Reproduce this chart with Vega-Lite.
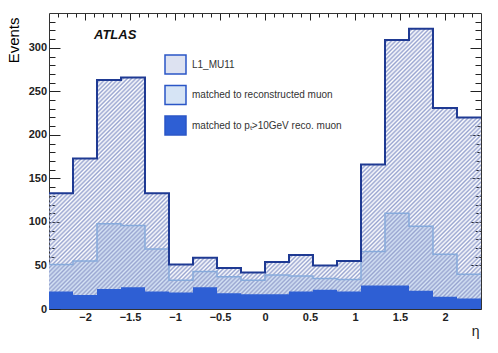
{
  "$schema": "https://vega.github.io/schema/vega-lite/v6.json",
  "width": 432,
  "height": 296,
  "autosize": {"type": "none"},
  "padding": {"left": 49, "top": 13, "right": 17, "bottom": 44},
  "background": "white",
  "config": {
    "view": {"stroke": null},
    "font": "Liberation Sans",
    "axis": {"grid": false, "zindex": 1, "domainColor": "#333", "tickColor": "#222", "tickWidth": 1, "labelOverlap": false, "labelFlush": false}
  },
  "data": {
    "values": [
      {"lo": -2.4, "hi": -2.1333, "l1": 133, "reco": 51, "pt": 20},
      {"lo": -2.1333, "hi": -1.8667, "l1": 173, "reco": 55, "pt": 16},
      {"lo": -1.8667, "hi": -1.6, "l1": 263, "reco": 98, "pt": 23},
      {"lo": -1.6, "hi": -1.3333, "l1": 266, "reco": 96, "pt": 25},
      {"lo": -1.3333, "hi": -1.0667, "l1": 133, "reco": 69, "pt": 20},
      {"lo": -1.0667, "hi": -0.8, "l1": 51, "reco": 33, "pt": 19},
      {"lo": -0.8, "hi": -0.5333, "l1": 59, "reco": 43, "pt": 25},
      {"lo": -0.5333, "hi": -0.2667, "l1": 47, "reco": 37, "pt": 18},
      {"lo": -0.2667, "hi": 0, "l1": 42, "reco": 33, "pt": 17},
      {"lo": 0, "hi": 0.2667, "l1": 54, "reco": 39, "pt": 17},
      {"lo": 0.2667, "hi": 0.5333, "l1": 62, "reco": 38, "pt": 20},
      {"lo": 0.5333, "hi": 0.8, "l1": 50, "reco": 35, "pt": 22},
      {"lo": 0.8, "hi": 1.0667, "l1": 55, "reco": 34, "pt": 20},
      {"lo": 1.0667, "hi": 1.3333, "l1": 166, "reco": 66, "pt": 27},
      {"lo": 1.3333, "hi": 1.6, "l1": 309, "reco": 110, "pt": 27},
      {"lo": 1.6, "hi": 1.8667, "l1": 322, "reco": 95, "pt": 21},
      {"lo": 1.8667, "hi": 2.1333, "l1": 231, "reco": 63, "pt": 14},
      {"lo": 2.1333, "hi": 2.4, "l1": 220, "reco": 40, "pt": 12}
    ]
  },
  "transform": [{"fold": ["lo", "hi"], "as": ["edge", "x"]}],
  "resolve": {"axis": {"x": "independent", "y": "independent"}},
  "layer": [
    {
      "mark": {"type": "area", "interpolate": "linear"},
      "encoding": {
        "x": {
          "field": "x", "type": "quantitative",
          "scale": {"domain": [-2.4, 2.4], "nice": false, "zero": false},
          "axis": {
            "orient": "bottom",
            "values": [-2.3,-2.2,-2.1,-2,-1.9,-1.8,-1.7,-1.6,-1.5,-1.4,-1.3,-1.2,-1.1,-1,-0.9,-0.8,-0.7,-0.6,-0.5,-0.4,-0.3,-0.2,-0.1,0,0.1,0.2,0.3,0.4,0.5,0.6,0.7,0.8,0.9,1,1.1,1.2,1.3,1.4,1.5,1.6,1.7,1.8,1.9,2,2.1,2.2,2.3],
            "format": "~g",
            "labelExpr": "abs(datum.value*2-round(datum.value*2)) < 0.001 ? datum.label : ''",
            "tickSize": {"condition": {"test": "abs(datum.value*2-round(datum.value*2)) < 0.001", "value": -9}, "value": -5},
            "labelFont": "Liberation Sans", "labelFontWeight": "bold", "labelFontSize": 11, "labelColor": "#222",
            "labelPadding": 11,
            "title": "η", "titleFont": "Liberation Sans", "titleFontWeight": "normal", "titleFontSize": 14,
            "titleAnchor": "end", "titleBaseline": "alphabetic", "titleY": 26, "titleX": 430, "titleColor": "#222"
          }
        },
        "y": {
          "field": "reco", "type": "quantitative", "stack": null,
          "scale": {"domain": [0, 340], "nice": false},
          "axis": {
            "orient": "left",
            "values": [0,10,20,30,40,50,60,70,80,90,100,110,120,130,140,150,160,170,180,190,200,210,220,230,240,250,260,270,280,290,300,310,320,330],
            "format": "d",
            "labelExpr": "datum.value % 50 === 0 ? datum.label : ''",
            "tickSize": {"condition": {"test": "datum.value % 50 === 0", "value": -11}, "value": -6},
            "labelFont": "Liberation Sans", "labelFontWeight": "bold", "labelFontSize": 11, "labelColor": "#222",
            "labelPadding": 13.5,
            "title": "Events", "titleFont": "Liberation Sans", "titleFontWeight": "normal", "titleFontSize": 15,
            "titleAnchor": "end", "titleX": -28, "titleY": 4, "titleColor": "black"
          }
        },
        "order": [{"field": "x", "type": "quantitative"}, {"field": "edge", "type": "nominal"}],
        "color": {
          "datum": "matched to reconstructed muon", "type": "nominal",
          "scale": {
            "domain": ["L1_MU11", "matched to reconstructed muon", "matched to pₜ>10GeV reco. muon"],
            "range": ["#dde2f1", "#d6e4f5", "#2e5fd4"]
          },
          "legend": {
            "orient": "none", "legendX": 115, "legendY": 40, "title": null, "padding": 0,
            "symbolType": "M-1,-0.9H1V0.9H-1Z", "symbolSize": 441, "symbolStrokeWidth": 1.5,
            "labelFont": "Liberation Sans", "labelFontSize": 10, "labelColor": "#333", "labelOffset": 5, "rowPadding": 5.5,
            "encode": {
              "symbols": {
                "update": {
                  "stroke": {
                    "condition": [
                      {"test": "datum.value === 'L1_MU11'", "value": "#1f3a93"},
                      {"test": "datum.value === 'matched to reconstructed muon'", "value": "#9dbbe3"}
                    ],
                    "value": "#2a56c6"
                  },
                  "strokeWidth": {
                    "condition": {"test": "datum.value === 'L1_MU11'", "value": 2},
                    "value": 1.5
                  }
                }
              }
            }
          }
        }
      }
    },
    {
      "mark": {"type": "area", "interpolate": "linear", "fill": {"gradient": "linear", "x1": 0, "y1": 0, "x2": 1.16, "y2": 0.753, "stops": [
        {"offset":0,"color":"#98a4d0"},{"offset":0.003,"color":"#98a4d000"},
        {"offset":0.006,"color":"#98a4d0"},{"offset":0.009,"color":"#98a4d000"},
        {"offset":0.012,"color":"#98a4d0"},{"offset":0.015,"color":"#98a4d000"},
        {"offset":0.018,"color":"#98a4d0"},{"offset":0.021,"color":"#98a4d000"},
        {"offset":0.024,"color":"#98a4d0"},{"offset":0.027,"color":"#98a4d000"},
        {"offset":0.03,"color":"#98a4d0"},{"offset":0.033,"color":"#98a4d000"},
        {"offset":0.036,"color":"#98a4d0"},{"offset":0.039,"color":"#98a4d000"},
        {"offset":0.042,"color":"#98a4d0"},{"offset":0.045,"color":"#98a4d000"},
        {"offset":0.048,"color":"#98a4d0"},{"offset":0.051,"color":"#98a4d000"},
        {"offset":0.054,"color":"#98a4d0"},{"offset":0.057,"color":"#98a4d000"},
        {"offset":0.06,"color":"#98a4d0"},{"offset":0.063,"color":"#98a4d000"},
        {"offset":0.066,"color":"#98a4d0"},{"offset":0.069,"color":"#98a4d000"},
        {"offset":0.072,"color":"#98a4d0"},{"offset":0.075,"color":"#98a4d000"},
        {"offset":0.078,"color":"#98a4d0"},{"offset":0.081,"color":"#98a4d000"},
        {"offset":0.084,"color":"#98a4d0"},{"offset":0.087,"color":"#98a4d000"},
        {"offset":0.09,"color":"#98a4d0"},{"offset":0.093,"color":"#98a4d000"},
        {"offset":0.096,"color":"#98a4d0"},{"offset":0.099,"color":"#98a4d000"},
        {"offset":0.102,"color":"#98a4d0"},{"offset":0.105,"color":"#98a4d000"},
        {"offset":0.108,"color":"#98a4d0"},{"offset":0.111,"color":"#98a4d000"},
        {"offset":0.114,"color":"#98a4d0"},{"offset":0.117,"color":"#98a4d000"},
        {"offset":0.12,"color":"#98a4d0"},{"offset":0.123,"color":"#98a4d000"},
        {"offset":0.126,"color":"#98a4d0"},{"offset":0.129,"color":"#98a4d000"},
        {"offset":0.132,"color":"#98a4d0"},{"offset":0.135,"color":"#98a4d000"},
        {"offset":0.138,"color":"#98a4d0"},{"offset":0.141,"color":"#98a4d000"},
        {"offset":0.144,"color":"#98a4d0"},{"offset":0.147,"color":"#98a4d000"},
        {"offset":0.15,"color":"#98a4d0"},{"offset":0.153,"color":"#98a4d000"},
        {"offset":0.156,"color":"#98a4d0"},{"offset":0.159,"color":"#98a4d000"},
        {"offset":0.162,"color":"#98a4d0"},{"offset":0.165,"color":"#98a4d000"},
        {"offset":0.168,"color":"#98a4d0"},{"offset":0.171,"color":"#98a4d000"},
        {"offset":0.174,"color":"#98a4d0"},{"offset":0.177,"color":"#98a4d000"},
        {"offset":0.18,"color":"#98a4d0"},{"offset":0.183,"color":"#98a4d000"},
        {"offset":0.186,"color":"#98a4d0"},{"offset":0.189,"color":"#98a4d000"},
        {"offset":0.192,"color":"#98a4d0"},{"offset":0.195,"color":"#98a4d000"},
        {"offset":0.198,"color":"#98a4d0"},{"offset":0.201,"color":"#98a4d000"},
        {"offset":0.204,"color":"#98a4d0"},{"offset":0.207,"color":"#98a4d000"},
        {"offset":0.21,"color":"#98a4d0"},{"offset":0.213,"color":"#98a4d000"},
        {"offset":0.216,"color":"#98a4d0"},{"offset":0.219,"color":"#98a4d000"},
        {"offset":0.222,"color":"#98a4d0"},{"offset":0.225,"color":"#98a4d000"},
        {"offset":0.228,"color":"#98a4d0"},{"offset":0.231,"color":"#98a4d000"},
        {"offset":0.234,"color":"#98a4d0"},{"offset":0.237,"color":"#98a4d000"},
        {"offset":0.24,"color":"#98a4d0"},{"offset":0.243,"color":"#98a4d000"},
        {"offset":0.246,"color":"#98a4d0"},{"offset":0.249,"color":"#98a4d000"},
        {"offset":0.252,"color":"#98a4d0"},{"offset":0.255,"color":"#98a4d000"},
        {"offset":0.258,"color":"#98a4d0"},{"offset":0.261,"color":"#98a4d000"},
        {"offset":0.264,"color":"#98a4d0"},{"offset":0.267,"color":"#98a4d000"},
        {"offset":0.27,"color":"#98a4d0"},{"offset":0.273,"color":"#98a4d000"},
        {"offset":0.276,"color":"#98a4d0"},{"offset":0.279,"color":"#98a4d000"},
        {"offset":0.282,"color":"#98a4d0"},{"offset":0.285,"color":"#98a4d000"},
        {"offset":0.288,"color":"#98a4d0"},{"offset":0.291,"color":"#98a4d000"},
        {"offset":0.294,"color":"#98a4d0"},{"offset":0.297,"color":"#98a4d000"},
        {"offset":0.3,"color":"#98a4d0"},{"offset":0.303,"color":"#98a4d000"},
        {"offset":0.306,"color":"#98a4d0"},{"offset":0.309,"color":"#98a4d000"},
        {"offset":0.312,"color":"#98a4d0"},{"offset":0.315,"color":"#98a4d000"},
        {"offset":0.318,"color":"#98a4d0"},{"offset":0.321,"color":"#98a4d000"},
        {"offset":0.324,"color":"#98a4d0"},{"offset":0.327,"color":"#98a4d000"},
        {"offset":0.33,"color":"#98a4d0"},{"offset":0.333,"color":"#98a4d000"},
        {"offset":0.336,"color":"#98a4d0"},{"offset":0.339,"color":"#98a4d000"},
        {"offset":0.342,"color":"#98a4d0"},{"offset":0.345,"color":"#98a4d000"},
        {"offset":0.348,"color":"#98a4d0"},{"offset":0.351,"color":"#98a4d000"},
        {"offset":0.354,"color":"#98a4d0"},{"offset":0.357,"color":"#98a4d000"},
        {"offset":0.36,"color":"#98a4d0"},{"offset":0.363,"color":"#98a4d000"},
        {"offset":0.366,"color":"#98a4d0"},{"offset":0.369,"color":"#98a4d000"},
        {"offset":0.372,"color":"#98a4d0"},{"offset":0.375,"color":"#98a4d000"},
        {"offset":0.378,"color":"#98a4d0"},{"offset":0.381,"color":"#98a4d000"},
        {"offset":0.384,"color":"#98a4d0"},{"offset":0.387,"color":"#98a4d000"},
        {"offset":0.39,"color":"#98a4d0"},{"offset":0.393,"color":"#98a4d000"},
        {"offset":0.396,"color":"#98a4d0"},{"offset":0.399,"color":"#98a4d000"},
        {"offset":0.402,"color":"#98a4d0"},{"offset":0.405,"color":"#98a4d000"},
        {"offset":0.408,"color":"#98a4d0"},{"offset":0.411,"color":"#98a4d000"},
        {"offset":0.414,"color":"#98a4d0"},{"offset":0.417,"color":"#98a4d000"},
        {"offset":0.42,"color":"#98a4d0"},{"offset":0.423,"color":"#98a4d000"},
        {"offset":0.426,"color":"#98a4d0"},{"offset":0.429,"color":"#98a4d000"},
        {"offset":0.432,"color":"#98a4d0"},{"offset":0.435,"color":"#98a4d000"},
        {"offset":0.438,"color":"#98a4d0"},{"offset":0.441,"color":"#98a4d000"},
        {"offset":0.444,"color":"#98a4d0"},{"offset":0.447,"color":"#98a4d000"},
        {"offset":0.45,"color":"#98a4d0"},{"offset":0.453,"color":"#98a4d000"},
        {"offset":0.456,"color":"#98a4d0"},{"offset":0.459,"color":"#98a4d000"},
        {"offset":0.462,"color":"#98a4d0"},{"offset":0.465,"color":"#98a4d000"},
        {"offset":0.468,"color":"#98a4d0"},{"offset":0.471,"color":"#98a4d000"},
        {"offset":0.474,"color":"#98a4d0"},{"offset":0.477,"color":"#98a4d000"},
        {"offset":0.48,"color":"#98a4d0"},{"offset":0.483,"color":"#98a4d000"},
        {"offset":0.486,"color":"#98a4d0"},{"offset":0.489,"color":"#98a4d000"},
        {"offset":0.492,"color":"#98a4d0"},{"offset":0.495,"color":"#98a4d000"},
        {"offset":0.498,"color":"#98a4d0"},{"offset":0.501,"color":"#98a4d000"},
        {"offset":0.504,"color":"#98a4d0"},{"offset":0.507,"color":"#98a4d000"},
        {"offset":0.51,"color":"#98a4d0"},{"offset":0.513,"color":"#98a4d000"},
        {"offset":0.516,"color":"#98a4d0"},{"offset":0.519,"color":"#98a4d000"},
        {"offset":0.522,"color":"#98a4d0"},{"offset":0.525,"color":"#98a4d000"},
        {"offset":0.528,"color":"#98a4d0"},{"offset":0.531,"color":"#98a4d000"},
        {"offset":0.534,"color":"#98a4d0"},{"offset":0.537,"color":"#98a4d000"},
        {"offset":0.54,"color":"#98a4d0"},{"offset":0.543,"color":"#98a4d000"},
        {"offset":0.546,"color":"#98a4d0"},{"offset":0.549,"color":"#98a4d000"},
        {"offset":0.552,"color":"#98a4d0"},{"offset":0.555,"color":"#98a4d000"},
        {"offset":0.558,"color":"#98a4d0"},{"offset":0.561,"color":"#98a4d000"},
        {"offset":0.564,"color":"#98a4d0"},{"offset":0.567,"color":"#98a4d000"},
        {"offset":0.57,"color":"#98a4d0"},{"offset":0.573,"color":"#98a4d000"},
        {"offset":0.576,"color":"#98a4d0"},{"offset":0.579,"color":"#98a4d000"},
        {"offset":0.582,"color":"#98a4d0"},{"offset":0.585,"color":"#98a4d000"},
        {"offset":0.588,"color":"#98a4d0"},{"offset":0.591,"color":"#98a4d000"},
        {"offset":0.594,"color":"#98a4d0"},{"offset":0.597,"color":"#98a4d000"},
        {"offset":0.6,"color":"#98a4d0"},{"offset":0.603,"color":"#98a4d000"},
        {"offset":0.606,"color":"#98a4d0"},{"offset":0.609,"color":"#98a4d000"},
        {"offset":0.612,"color":"#98a4d0"},{"offset":0.615,"color":"#98a4d000"},
        {"offset":0.618,"color":"#98a4d0"},{"offset":0.621,"color":"#98a4d000"},
        {"offset":0.624,"color":"#98a4d0"},{"offset":0.627,"color":"#98a4d000"},
        {"offset":0.63,"color":"#98a4d0"},{"offset":0.633,"color":"#98a4d000"},
        {"offset":0.636,"color":"#98a4d0"},{"offset":0.639,"color":"#98a4d000"},
        {"offset":0.642,"color":"#98a4d0"},{"offset":0.645,"color":"#98a4d000"},
        {"offset":0.648,"color":"#98a4d0"},{"offset":0.651,"color":"#98a4d000"},
        {"offset":0.654,"color":"#98a4d0"},{"offset":0.657,"color":"#98a4d000"},
        {"offset":0.66,"color":"#98a4d0"},{"offset":0.663,"color":"#98a4d000"},
        {"offset":0.666,"color":"#98a4d0"},{"offset":0.669,"color":"#98a4d000"},
        {"offset":0.672,"color":"#98a4d0"},{"offset":0.675,"color":"#98a4d000"},
        {"offset":0.678,"color":"#98a4d0"},{"offset":0.681,"color":"#98a4d000"},
        {"offset":0.684,"color":"#98a4d0"},{"offset":0.687,"color":"#98a4d000"},
        {"offset":0.69,"color":"#98a4d0"},{"offset":0.693,"color":"#98a4d000"},
        {"offset":0.696,"color":"#98a4d0"},{"offset":0.699,"color":"#98a4d000"},
        {"offset":0.702,"color":"#98a4d0"},{"offset":0.705,"color":"#98a4d000"},
        {"offset":0.708,"color":"#98a4d0"},{"offset":0.711,"color":"#98a4d000"},
        {"offset":0.714,"color":"#98a4d0"},{"offset":0.717,"color":"#98a4d000"},
        {"offset":0.72,"color":"#98a4d0"},{"offset":0.723,"color":"#98a4d000"},
        {"offset":0.726,"color":"#98a4d0"},{"offset":0.729,"color":"#98a4d000"},
        {"offset":0.732,"color":"#98a4d0"},{"offset":0.735,"color":"#98a4d000"},
        {"offset":0.738,"color":"#98a4d0"},{"offset":0.741,"color":"#98a4d000"},
        {"offset":0.744,"color":"#98a4d0"},{"offset":0.747,"color":"#98a4d000"},
        {"offset":0.75,"color":"#98a4d0"},{"offset":0.753,"color":"#98a4d000"},
        {"offset":0.756,"color":"#98a4d0"},{"offset":0.759,"color":"#98a4d000"},
        {"offset":0.762,"color":"#98a4d0"},{"offset":0.765,"color":"#98a4d000"},
        {"offset":0.768,"color":"#98a4d0"},{"offset":0.771,"color":"#98a4d000"},
        {"offset":0.774,"color":"#98a4d0"},{"offset":0.777,"color":"#98a4d000"},
        {"offset":0.78,"color":"#98a4d0"},{"offset":0.783,"color":"#98a4d000"},
        {"offset":0.786,"color":"#98a4d0"},{"offset":0.789,"color":"#98a4d000"},
        {"offset":0.792,"color":"#98a4d0"},{"offset":0.795,"color":"#98a4d000"},
        {"offset":0.798,"color":"#98a4d0"},{"offset":0.801,"color":"#98a4d000"},
        {"offset":0.804,"color":"#98a4d0"},{"offset":0.807,"color":"#98a4d000"},
        {"offset":0.81,"color":"#98a4d0"},{"offset":0.813,"color":"#98a4d000"},
        {"offset":0.816,"color":"#98a4d0"},{"offset":0.819,"color":"#98a4d000"},
        {"offset":0.822,"color":"#98a4d0"},{"offset":0.825,"color":"#98a4d000"},
        {"offset":0.828,"color":"#98a4d0"},{"offset":0.831,"color":"#98a4d000"},
        {"offset":0.834,"color":"#98a4d0"},{"offset":0.837,"color":"#98a4d000"},
        {"offset":0.84,"color":"#98a4d0"},{"offset":0.843,"color":"#98a4d000"},
        {"offset":0.846,"color":"#98a4d0"},{"offset":0.849,"color":"#98a4d000"},
        {"offset":0.852,"color":"#98a4d0"},{"offset":0.855,"color":"#98a4d000"},
        {"offset":0.858,"color":"#98a4d0"},{"offset":0.861,"color":"#98a4d000"},
        {"offset":0.864,"color":"#98a4d0"},{"offset":0.867,"color":"#98a4d000"},
        {"offset":0.87,"color":"#98a4d0"},{"offset":0.873,"color":"#98a4d000"},
        {"offset":0.876,"color":"#98a4d0"},{"offset":0.879,"color":"#98a4d000"},
        {"offset":0.882,"color":"#98a4d0"},{"offset":0.885,"color":"#98a4d000"},
        {"offset":0.888,"color":"#98a4d0"},{"offset":0.891,"color":"#98a4d000"},
        {"offset":0.894,"color":"#98a4d0"},{"offset":0.897,"color":"#98a4d000"},
        {"offset":0.9,"color":"#98a4d0"},{"offset":0.903,"color":"#98a4d000"},
        {"offset":0.906,"color":"#98a4d0"},{"offset":0.909,"color":"#98a4d000"},
        {"offset":0.912,"color":"#98a4d0"},{"offset":0.915,"color":"#98a4d000"},
        {"offset":0.918,"color":"#98a4d0"},{"offset":0.921,"color":"#98a4d000"},
        {"offset":0.924,"color":"#98a4d0"},{"offset":0.927,"color":"#98a4d000"},
        {"offset":0.93,"color":"#98a4d0"},{"offset":0.933,"color":"#98a4d000"},
        {"offset":0.936,"color":"#98a4d0"},{"offset":0.939,"color":"#98a4d000"},
        {"offset":0.942,"color":"#98a4d0"},{"offset":0.945,"color":"#98a4d000"},
        {"offset":0.948,"color":"#98a4d0"},{"offset":0.951,"color":"#98a4d000"},
        {"offset":0.954,"color":"#98a4d0"},{"offset":0.957,"color":"#98a4d000"},
        {"offset":0.96,"color":"#98a4d0"},{"offset":0.963,"color":"#98a4d000"},
        {"offset":0.966,"color":"#98a4d0"},{"offset":0.969,"color":"#98a4d000"},
        {"offset":0.972,"color":"#98a4d0"},{"offset":0.975,"color":"#98a4d000"},
        {"offset":0.978,"color":"#98a4d0"},{"offset":0.981,"color":"#98a4d000"},
        {"offset":0.984,"color":"#98a4d0"},{"offset":0.987,"color":"#98a4d000"},
        {"offset":0.99,"color":"#98a4d0"},{"offset":0.993,"color":"#98a4d000"},
        {"offset":0.996,"color":"#98a4d0"},{"offset":0.999,"color":"#98a4d000"}
      ]}},
      "encoding": {
        "x": {"field": "x", "type": "quantitative", "axis": null},
        "y": {"field": "l1", "type": "quantitative", "stack": null, "axis": null},
        "order": [{"field": "x", "type": "quantitative"}, {"field": "edge", "type": "nominal"}]
      }
    },
    {
      "mark": {"type": "line", "interpolate": "linear", "color": "#86aadb", "strokeWidth": 1.5},
      "encoding": {
        "x": {"field": "x", "type": "quantitative", "axis": null},
        "y": {"field": "reco", "type": "quantitative", "stack": null, "axis": null},
        "order": [{"field": "x", "type": "quantitative"}, {"field": "edge", "type": "nominal"}]
      }
    },
    {
      "mark": {"type": "area", "interpolate": "linear", "color": "#2e5fd4"},
      "encoding": {
        "x": {"field": "x", "type": "quantitative", "axis": null},
        "y": {"field": "pt", "type": "quantitative", "stack": null, "axis": null},
        "order": [{"field": "x", "type": "quantitative"}, {"field": "edge", "type": "nominal"}]
      }
    },
    {
      "mark": {"type": "line", "interpolate": "linear", "color": "#1f3a93", "strokeWidth": 2},
      "encoding": {
        "x": {
          "field": "x", "type": "quantitative",
          "axis": {
            "orient": "top",
            "values": [-2.3,-2.2,-2.1,-2,-1.9,-1.8,-1.7,-1.6,-1.5,-1.4,-1.3,-1.2,-1.1,-1,-0.9,-0.8,-0.7,-0.6,-0.5,-0.4,-0.3,-0.2,-0.1,0,0.1,0.2,0.3,0.4,0.5,0.6,0.7,0.8,0.9,1,1.1,1.2,1.3,1.4,1.5,1.6,1.7,1.8,1.9,2,2.1,2.2,2.3],
            "labels": false, "title": null,
            "tickSize": {"condition": {"test": "abs(datum.value*2-round(datum.value*2)) < 0.001", "value": -7}, "value": -4}
          }
        },
        "y": {
          "field": "l1", "type": "quantitative", "stack": null,
          "axis": {
            "orient": "right",
            "values": [0,10,20,30,40,50,60,70,80,90,100,110,120,130,140,150,160,170,180,190,200,210,220,230,240,250,260,270,280,290,300,310,320,330],
            "labels": false, "title": null,
            "tickSize": {"condition": {"test": "datum.value % 50 === 0", "value": -11}, "value": -6}
          }
        },
        "order": [{"field": "x", "type": "quantitative"}, {"field": "edge", "type": "nominal"}]
      }
    },
    {
      "data": {"values": [{}]},
      "mark": {"type": "text", "text": "ATLAS", "font": "Liberation Sans", "fontStyle": "italic", "fontWeight": "bold", "fontSize": 13, "align": "left", "baseline": "middle", "color": "#111"},
      "encoding": {
        "x": {"datum": -1.9, "type": "quantitative", "axis": null},
        "y": {"datum": 315, "type": "quantitative", "axis": null}
      }
    }
  ]
}
